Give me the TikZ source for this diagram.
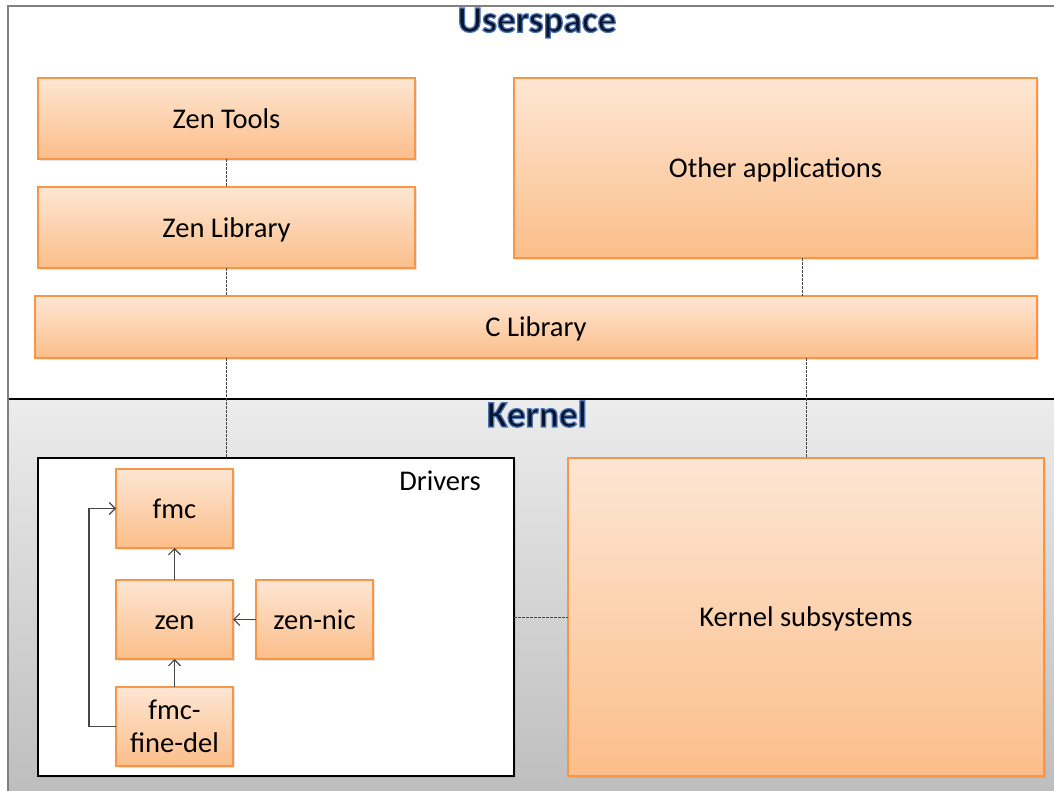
\documentclass[tikz,border=0pt]{standalone}
\usepackage{fontspec}
\setmainfont{Carlito}
\usetikzlibrary{shadows,arrows.meta}
\definecolor{boxtop}{RGB}{253,230,211}
\definecolor{boxbot}{RGB}{252,190,138}
\definecolor{boxedge}{RGB}{247,150,70}
\definecolor{kertop}{RGB}{236,236,236}
\definecolor{kerbot}{RGB}{190,190,190}
\definecolor{titlecol}{RGB}{10,20,42}
\definecolor{linkcol}{RGB}{70,70,70}
% heading text filled dark and outlined in soft blue (PDF text render mode 2)
\newcommand{\haloText}[1]{%
  \special{pdf:literal direct 0.30 0.46 0.72 RG 0.95 w 2 Tr}#1\special{pdf:literal direct 0 Tr}}
\begin{document}
\begin{tikzpicture}[x=0.75pt,y=-0.75pt,
  px/.style 2 args={minimum width=#1*0.75pt, minimum height=#2*0.75pt},
  box/.style={draw=boxedge, line width=0.8pt, top color=boxtop, bottom color=boxbot,
    inner sep=0pt, outer sep=0pt, font=\fontsize{21.4}{25}\selectfont, align=center,
    drop shadow={opacity=0.22, shadow xshift=1.5pt, shadow yshift=-1.5pt}},
  onel/.style={text height=15pt, text depth=0.3pt},
  drvbox/.style={draw=black, line width=2.2pt, fill=white, inner sep=0pt, outer sep=0pt,
    drop shadow={opacity=0.2, shadow xshift=1.5pt, shadow yshift=-1.5pt}},
  title/.style={font=\fontsize{28}{32}\selectfont\bfseries, text=titlecol, inner sep=0pt},
  label/.style={font=\fontsize{21.4}{25}\selectfont, inner sep=0pt},
  dashlink/.style={draw=linkcol, line width=0.75pt, dash pattern=on 2.2pt off 0.8pt},
  arrlink/.style={draw=linkcol, line width=0.9pt, -{Straight Barb[length=4.5pt,width=9pt,line width=0.9pt]}}]
\useasboundingbox (0,0) rectangle (1054,791);

% kernel band with its grey gradient
\path[top color=kertop, bottom color=kerbot] (8,399) rectangle (1054,791);
\draw[black, line width=0.9pt] (8,399) -- (1054,399);
% outer frame of the userspace area
\draw[gray, line width=1.3pt] (8,791) -- (8,6) -- (1054,6);

% section titles
\node[title] (us) at (537,23) {\haloText{Userspace}};
\node[title] (kn) at (537,414) {\haloText{Kernel}};

% userspace components
\node[box, onel, px={377}{81}] (zt) at (226.5,118.5) {Zen Tools};
\node[box, onel, px={377}{81}] (zl) at (226.5,227.5) {Zen Library};
\node[box, onel, px={523}{180}] (oa) at (775.5,168) {Other applications};
\node[box, onel, px={1002}{62}] (cl) at (536,327) {C Library};

% kernel components
\node[drvbox, px={476}{318}] (drv) at (276,617) {};
\node[label] (drvlbl) at (440,481) {Drivers};
\node[box, onel, px={476}{318}] (ks) at (806,617) {Kernel subsystems};

\node[box, onel, px={117}{79}] (fmc) at (174.5,508.5) {fmc};
\node[box, onel, px={117}{79}] (zen) at (174.5,619.5) {zen};
\node[box, onel, px={117}{79}] (zn) at (314.5,619.5) {zen-nic};
\node[box, px={117}{79}] (fd) at (174.5,726.5) {fmc-\\fine-del};

% dashed links between layers
\draw[dashlink] (zt.south) -- (zl.north);
\draw[dashlink] (zl.south) -- (zl.south |- cl.north);
\draw[dashlink] ([xshift=20.6pt]oa.south) -- ([xshift=20.6pt]oa.south |- cl.north);
\draw[dashlink] (zl.south |- cl.south) -- (zl.south |- drv.north);
\draw[dashlink] (ks.north |- cl.south) -- (ks.north);
\draw[dashlink] (drv.east) -- (ks.west);

% driver dependencies
\draw[arrlink] (zen.north) -- (fmc.south);
\draw[arrlink] (fd.north) -- (zen.south);
\draw[arrlink] (zn.west) -- (zen.east);
\draw[arrlink] (fd.west) -- ++(-20.25pt,0) |- (fmc.west);
\end{tikzpicture}
\end{document}
